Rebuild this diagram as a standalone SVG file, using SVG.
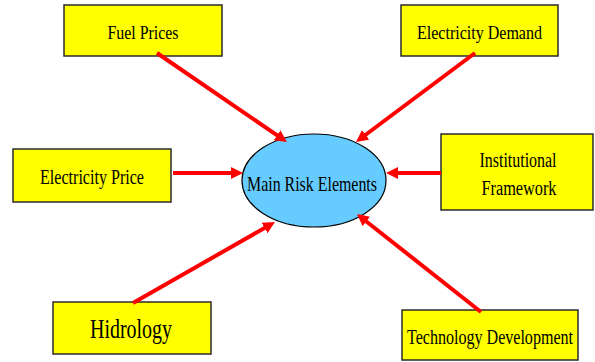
<svg xmlns="http://www.w3.org/2000/svg" width="595" height="362" viewBox="0 0 595 362">
  <style>
    .box { fill: #FFFF00; stroke: #2b2b2b; stroke-width: 1.5; }
    .hub { fill: #66CCFF; stroke: #000000; stroke-width: 1.2; }
    .lbl { font-family: "Liberation Serif", "Times New Roman", serif; fill: #000000; text-anchor: middle; }
    .link { stroke: #FF0000; stroke-width: 4; fill: none; marker-end: url(#head); }
  </style>
  <defs>
    <marker id="head" viewBox="0 0 12 12" refX="2" refY="6" markerWidth="12" markerHeight="12" markerUnits="userSpaceOnUse" orient="auto">
      <path d="M0,0 L12,6 L0,12 z" fill="#FF0000"/>
    </marker>
  </defs>
  <rect width="595" height="362" fill="#FFFFFF"/>

  <g id="node-fuel-prices">
    <rect class="box" x="64" y="5" width="158" height="51"/>
    <text class="lbl" x="143" y="39" font-size="19" textLength="71" lengthAdjust="spacingAndGlyphs">Fuel Prices</text>
  </g>

  <g id="node-electricity-demand">
    <rect class="box" x="401" y="5" width="157" height="51"/>
    <text class="lbl" x="479.5" y="39" font-size="19" textLength="125" lengthAdjust="spacingAndGlyphs">Electricity Demand</text>
  </g>

  <g id="node-electricity-price">
    <rect class="box" x="13" y="149" width="158" height="53"/>
    <text class="lbl" x="92" y="184" font-size="20" textLength="104" lengthAdjust="spacingAndGlyphs">Electricity Price</text>
  </g>

  <g id="node-main-risk-elements">
    <ellipse class="hub" cx="314" cy="180.5" rx="72" ry="46.5"/>
    <text class="lbl" x="312" y="191" font-size="21" textLength="130" lengthAdjust="spacingAndGlyphs">Main Risk Elements</text>
  </g>

  <g id="node-institutional-framework">
    <rect class="box" x="441" y="134" width="152" height="76"/>
    <text class="lbl" x="518" y="167" font-size="20" textLength="77" lengthAdjust="spacingAndGlyphs">Institutional</text>
    <text class="lbl" x="519" y="195" font-size="20" textLength="75" lengthAdjust="spacingAndGlyphs">Framework</text>
  </g>

  <g id="node-hidrology">
    <rect class="box" x="53" y="302" width="158" height="52"/>
    <text class="lbl" x="131" y="338" font-size="27" textLength="82" lengthAdjust="spacingAndGlyphs">Hidrology</text>
  </g>

  <g id="node-technology-development">
    <rect class="box" x="402" y="310" width="176" height="50"/>
    <text class="lbl" x="490" y="344" font-size="21" textLength="166" lengthAdjust="spacingAndGlyphs">Technology Development</text>
  </g>

  <g id="connectors">
    <line class="link" x1="157" y1="53" x2="278.7" y2="136.4"/>
    <line class="link" x1="475" y1="53" x2="364" y2="136"/>
    <line class="link" x1="173" y1="173" x2="233" y2="173"/>
    <line class="link" x1="441" y1="173" x2="396" y2="173"/>
    <line class="link" x1="133" y1="303" x2="266.3" y2="227"/>
    <line class="link" x1="481" y1="312" x2="364.8" y2="220.2"/>
  </g>
</svg>
